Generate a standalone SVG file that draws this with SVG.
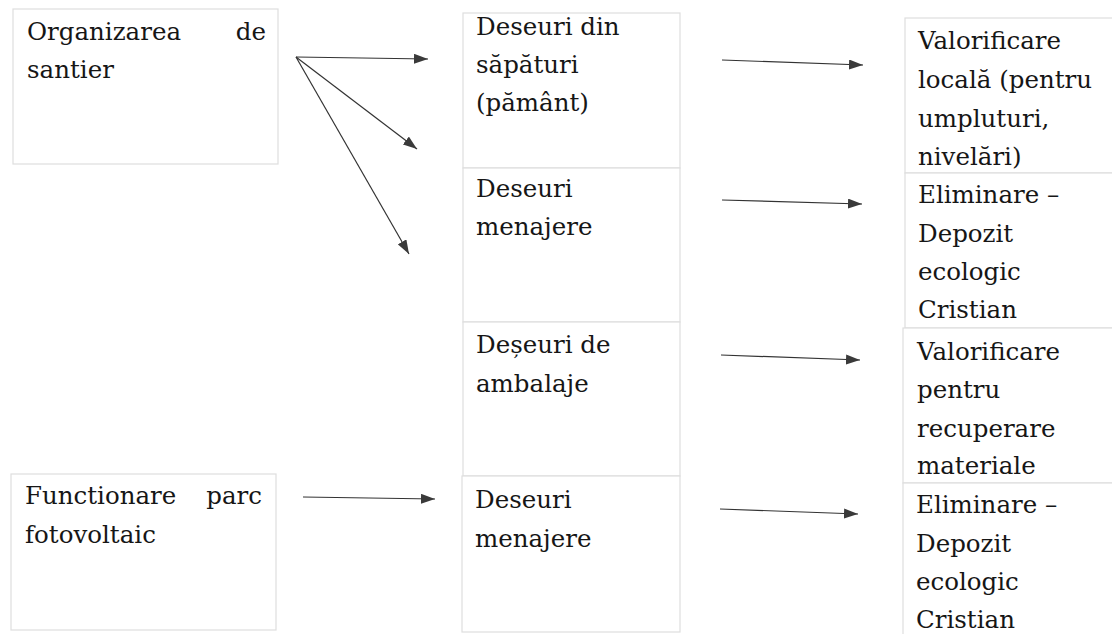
<svg xmlns="http://www.w3.org/2000/svg" width="1112" height="634" viewBox="0 0 1112 634">
<defs>
<style>
.box{fill:#fff;stroke:#dedede;stroke-width:1.2}
.t{font-family:"DejaVu Serif","Liberation Serif",serif;font-size:24.5px;fill:#161616}
.e{text-anchor:end}
.c{fill:none;stroke:#333;stroke-width:1.2}
</style>
<marker id="ah" viewBox="0 0 14 10" refX="14" refY="5" markerWidth="14" markerHeight="10" markerUnits="userSpaceOnUse" orient="auto">
<path d="M0,0 L14,5 L0,10 z" fill="#3a3a3a"/>
</marker>
</defs>
<rect width="1112" height="634" fill="#fff"/>
<g id="n-organizarea">
<rect class="box" x="13" y="9" width="265" height="155"/>
<text class="t" x="27" y="40">Organizarea</text>
<text class="t e" x="266" y="40">de</text>
<text class="t" x="27" y="78">santier</text>
</g>
<g id="n-functionare">
<rect class="box" x="11" y="474" width="265" height="156"/>
<text class="t" x="25" y="504">Functionare</text>
<text class="t e" x="262" y="504">parc</text>
<text class="t" x="25" y="543">fotovoltaic</text>
</g>
<g id="n-sapaturi">
<rect class="box" x="463" y="13" width="217" height="155"/>
<text class="t" x="476" y="35">Deseuri din</text>
<text class="t" x="476" y="73">săpături</text>
<text class="t" x="476" y="111">(pământ)</text>
</g>
<g id="n-menajere1">
<rect class="box" x="463" y="168" width="217" height="154"/>
<text class="t" x="476" y="197">Deseuri</text>
<text class="t" x="476" y="235">menajere</text>
</g>
<g id="n-ambalaje">
<rect class="box" x="463" y="322" width="217" height="154"/>
<text class="t" x="476" y="353">Deșeuri de</text>
<text class="t" x="476" y="392">ambalaje</text>
</g>
<g id="n-menajere2">
<rect class="box" x="462" y="476" width="218" height="156"/>
<text class="t" x="475" y="508">Deseuri</text>
<text class="t" x="475" y="547">menajere</text>
</g>
<g id="n-valorificare-locala">
<rect class="box" x="905" y="18" width="215" height="155"/>
<text class="t" x="918" y="49">Valorificare</text>
<text class="t" x="918" y="88">locală (pentru</text>
<text class="t" x="918" y="127">umpluturi,</text>
<text class="t" x="918" y="165">nivelări)</text>
</g>
<g id="n-eliminare1">
<rect class="box" x="905" y="173" width="215" height="155"/>
<text class="t" x="918" y="203">Eliminare –</text>
<text class="t" x="918" y="242">Depozit</text>
<text class="t" x="918" y="280">ecologic</text>
<text class="t" x="918" y="318">Cristian</text>
</g>
<g id="n-valorificare-recuperare">
<rect class="box" x="903" y="328" width="217" height="155"/>
<text class="t" x="917" y="360">Valorificare</text>
<text class="t" x="917" y="398">pentru</text>
<text class="t" x="917" y="437">recuperare</text>
<text class="t" x="917" y="474">materiale</text>
</g>
<g id="n-eliminare2">
<rect class="box" x="903" y="483" width="217" height="160"/>
<text class="t" x="916" y="513">Eliminare –</text>
<text class="t" x="916" y="552">Depozit</text>
<text class="t" x="916" y="590">ecologic</text>
<text class="t" x="916" y="628">Cristian</text>
</g>
<g id="connectors">
<line class="c" x1="296" y1="57" x2="428" y2="59" marker-end="url(#ah)"/>
<line class="c" x1="296" y1="57" x2="417" y2="149" marker-end="url(#ah)"/>
<line class="c" x1="296" y1="57" x2="409" y2="254" marker-end="url(#ah)"/>
<line class="c" x1="303" y1="497" x2="435" y2="499" marker-end="url(#ah)"/>
<line class="c" x1="722" y1="60" x2="863" y2="65" marker-end="url(#ah)"/>
<line class="c" x1="722" y1="200" x2="862" y2="204" marker-end="url(#ah)"/>
<line class="c" x1="721" y1="355" x2="860" y2="360" marker-end="url(#ah)"/>
<line class="c" x1="720" y1="509" x2="858" y2="514" marker-end="url(#ah)"/>
</g>
</svg>
